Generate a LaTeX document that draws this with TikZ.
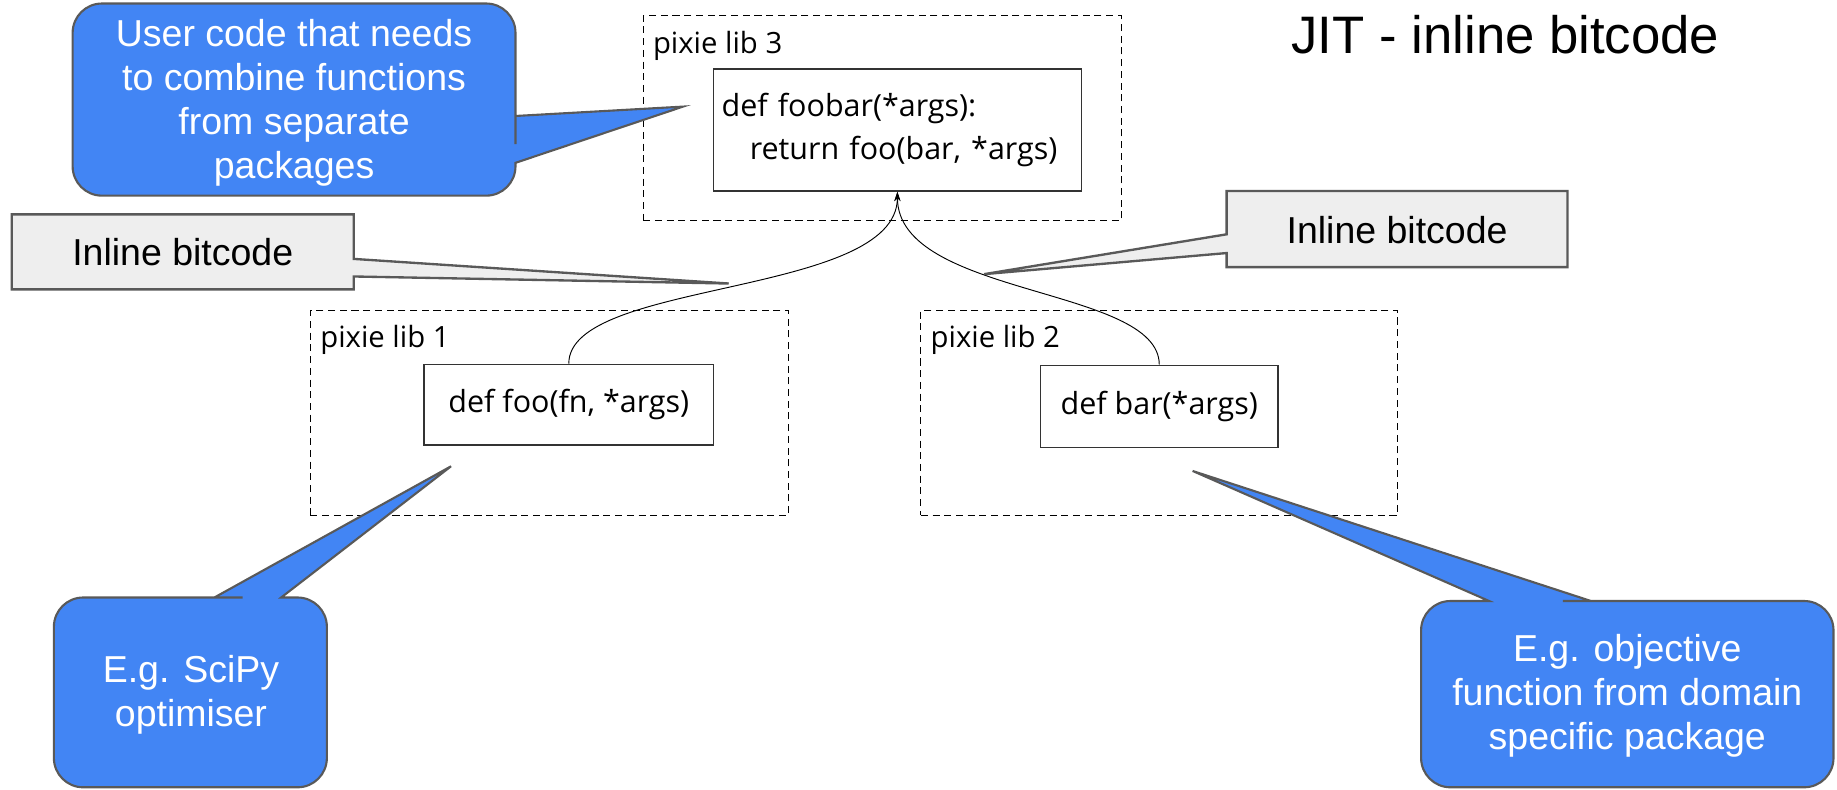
\documentclass[tikz,border=0pt]{standalone}
\usepackage{fontspec}
\setmainfont{Liberation Sans}
\newfontfamily\codefont{Open Sans}
\usetikzlibrary{arrows.meta}

\definecolor{calloutblue}{HTML}{4285F4}
\definecolor{calloutedge}{HTML}{595959}
\definecolor{calloutgrey}{HTML}{EEEEEE}

\tikzset{
    libbox/.style={draw, dash pattern=on 3pt off 2pt, line width=0.5pt, minimum width=204pt, minimum height=87.5pt},
    funcbox/.style={draw=black!80, fill=white, line width=0.7pt, font=\codefont\fontsize{13}{18}\selectfont},
    liblabel/.style={anchor=base west, inner sep=0pt, font=\codefont\fontsize{12.5}{15}\selectfont},
    bluecall/.style={fill=calloutblue, draw=calloutedge, line width=0.9pt},
    greycall/.style={fill=calloutgrey, draw=calloutedge, line width=1pt},
    bluetext/.style={text=white, align=center, font=\fontsize{16}{18.8}\selectfont},
    greytext/.style={font=\fontsize{16}{19}\selectfont},
    link/.style={line width=0.4pt, -{Stealth[length=4pt,width=2.6pt]}}
}

\begin{document}
\begin{tikzpicture}[x=0.5pt, y=-0.5pt]  % one unit per pixel, y pointing down
    \useasboundingbox (0,0) rectangle (1568,674);

    % Title
    \node[font=\fontsize{22.5}{26}\selectfont] (title) at (1285,30) {JIT - inline bitcode};

    % Dashed package boxes and their labels
    \node[libbox] (lib3) at (753,101) {};
    \node[libbox] (lib1) at (469,352.5) {};
    \node[libbox, minimum width=203.5pt] (lib2) at (989.5,352.5) {};
    \node[liblabel] (lib3label) at (557,45.5) {pixie lib 3};
    \node[liblabel] (lib1label) at (273,297) {pixie lib 1};
    \node[liblabel] (lib2label) at (794,297) {pixie lib 2};

    % Functions
    \node[funcbox, text width=150pt, inner xsep=3.5pt, minimum height=52pt, align=left] (foobar) at (766,111)
        {def foobar(*args):\\\hspace*{12pt}return foo(bar, *args)};
    \node[funcbox, minimum width=123.5pt, minimum height=34.5pt] (foo) at (485.5,345.5) {def foo(fn, *args)};
    \node[funcbox, minimum width=101.5pt, minimum height=35pt] (bar) at (989.5,347) {def bar(*args)};

    % Bitcode links
    \draw[link] (foo.north) .. controls +(0,-72) and +(0,90) .. (foobar.south);
    \draw[link] (bar.north) .. controls +(0,-67) and +(0,90) .. (foobar.south);

    % Grey callouts
    \draw[greycall] (622,242) -- (302,236) -- (302,247) -- (10,247) -- (10,183) -- (302,183) -- (302,221) -- cycle;
    \node[greytext] (inline1) at (156,215) {Inline bitcode};
    \draw[greycall] (840,234) -- (1047,216) -- (1047,228) -- (1338,228) -- (1338,163) -- (1047,163) -- (1047,200) -- cycle;
    \node[greytext] (inline2) at (1192.5,196) {Inline bitcode};

    % Blue callouts
    \draw[bluecall] (583,91) -- (440,139) -- (440,140) [rounded corners=12.5pt] -- (440,167) -- (62,167)
        -- (62,3) -- (440,3) -- (440,98) [sharp corners] -- (440,99) -- cycle;
    \node[bluetext] (usercode) at (251,88) {User code that needs\\to combine functions\\from separate\\packages};

    \draw[bluecall] (385,398) -- (240,510) -- (241,510) [rounded corners=12.5pt] -- (279,510) -- (279,672)
        -- (46,672) -- (46,510) -- (182,510) [sharp corners] -- (183,510) -- cycle;
    \node[bluetext] (scipy) at (163,593) {E.g. SciPy\\optimiser};

    \draw[bluecall] (1018,402) -- (1271,513) -- (1270,513) [rounded corners=12.5pt] -- (1213,513) -- (1213,672)
        -- (1565,672) -- (1565,513) -- (1359,513) [sharp corners] -- (1358,513) -- cycle;
    \node[bluetext] (objective) at (1389,594) {E.g. objective\\function from domain\\specific package};
\end{tikzpicture}
\end{document}
